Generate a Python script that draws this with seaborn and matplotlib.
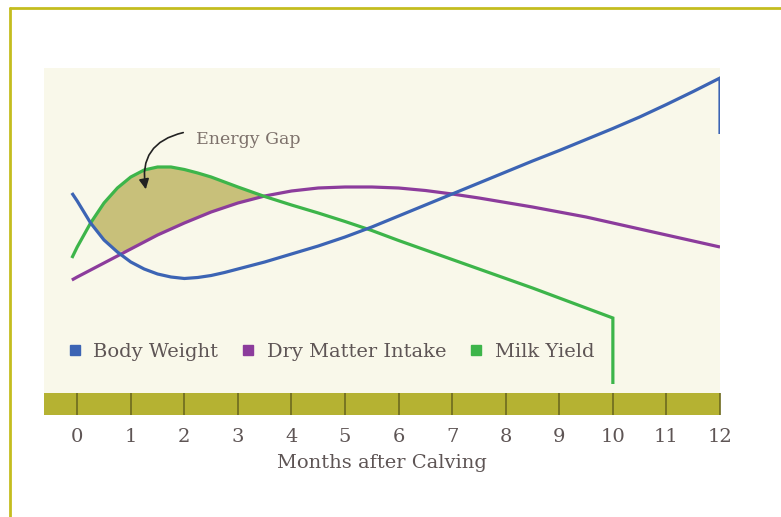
import numpy as np
import pandas as pd
import matplotlib.pyplot as plt
import seaborn as sns
from matplotlib.lines import Line2D

sns.set_theme(style="white")
plt.rcParams["font.family"] = ["DejaVu Serif"]

# months after calving (shared grid for the three curves)
MONTHS = [-0.1, 0, 0.25, 0.5, 0.75, 1, 1.25, 1.5, 1.75, 2, 2.25, 2.5, 2.75, 3, 3.5, 4, 4.5,
          5, 5.5, 6, 6.5, 7, 7.5, 8, 8.5, 9, 9.5, 10, 10.5, 11, 11.5, 12]

BODY_WEIGHT = [200, 192, 170, 153, 141, 131, 124, 119, 116, 114.5, 115.5, 117.5, 120.5, 124,
               131, 139, 147, 156, 166, 177, 188, 199, 210, 221, 232, 242.5, 253.5, 264.5,
               276, 288.5, 301.5, 315]
BODY_WEIGHT_END = 259  # drop at month 12

DRY_MATTER = [113, 116, 123, 130, 137, 144, 151, 158, 164, 170, 175.5, 181, 185.5, 190,
              197, 202, 205, 206, 206, 205, 202.5, 199, 195, 190.5, 186, 181, 176, 170,
              164, 158, 152, 146]

# milk yield only runs to month 10 (dry-off)
MILK_YIELD = [135, 146, 170, 190, 205, 216, 223, 226, 226, 223.5, 220, 216, 211, 206,
              196.5, 188, 180, 171.5, 162.5, 152.5, 143, 133.5, 124, 114.5, 105, 95, 85, 75]
MILK_YIELD_END = 9  # drop at month 10

TICKS = list(range(0, 13))

BLUE = "#3c64b4"
PURPLE = "#8c3c9c"
GREEN = "#3db54a"
CREAM = "#f9f8ea"
OLIVE = "#b5b232"
TEXT = "#5e5555"


def series_frame(months, values, end_value=None):
    df = pd.DataFrame({"month": months, "value": values})
    if end_value is not None:
        df = pd.concat([df, pd.DataFrame({"month": [months[-1]], "value": [end_value]})],
                       ignore_index=True)
    return df


def plot_chart(filename):
    fig = plt.figure(figsize=(7.81, 5.17), dpi=100)
    fig.patch.set_facecolor("white")

    ax = fig.add_axes([44 / 781, 124 / 517, 676 / 781, 325 / 517])
    band = fig.add_axes([44 / 781, 102 / 517, 676 / 781, 22 / 517], sharex=ax)

    ax.set_facecolor(CREAM)
    ax.set_xlim(-0.62, 12)
    ax.set_ylim(0, 325)
    for s in ax.spines.values():
        s.set_visible(False)
    ax.tick_params(left=False, bottom=False, labelleft=False, labelbottom=False)

    # energy gap: milk yield above both intake and body weight
    n = len(MILK_YIELD)
    x = np.array(MONTHS[:n])
    milk = np.array(MILK_YIELD)
    lower = np.maximum(np.array(DRY_MATTER[:n]), np.array(BODY_WEIGHT[:n]))
    ax.fill_between(x, lower, milk, where=milk > lower, interpolate=True,
                    color="#c8c07a", lw=0, zorder=1)

    for df, color in [
        (series_frame(MONTHS, DRY_MATTER), PURPLE),
        (series_frame(MONTHS[:n], MILK_YIELD, MILK_YIELD_END), GREEN),
        (series_frame(MONTHS, BODY_WEIGHT, BODY_WEIGHT_END), BLUE),
    ]:
        sns.lineplot(data=df, x="month", y="value", sort=False, estimator=None,
                     color=color, lw=2.3, ax=ax, zorder=3,
                     solid_capstyle="butt", solid_joinstyle="miter")
    ax.set_xlabel("")
    ax.set_ylabel("")

    ax.text(2.22, 253, "Energy Gap", fontsize=12.5, color="#7d716b", ha="left", va="center")
    ax.annotate("", xy=(1.29, 201), xytext=(2.03, 261),
                arrowprops=dict(arrowstyle="-|>", connectionstyle="arc3,rad=0.5",
                                color="#222222", lw=1.2, mutation_scale=15))

    handles = [Line2D([], [], marker="s", ls="", color=c, markersize=7)
               for c in (BLUE, PURPLE, GREEN)]
    ax.legend(handles, ["Body Weight", "Dry Matter Intake", "Milk Yield"],
              loc="center left", bbox_to_anchor=(0.008, 0.126), ncol=3, frameon=False,
              handletextpad=0.55, columnspacing=1.15, handlelength=0.8,
              prop={"size": 14}, labelcolor=TEXT)

    # olive band with month ticks
    band.set_facecolor(OLIVE)
    band.set_ylim(0, 1)
    for s in band.spines.values():
        s.set_visible(False)
    band.set_xticks(TICKS)
    band.set_xticklabels([str(t) for t in TICKS])
    band.set_yticks([])
    band.tick_params(axis="x", direction="in", length=16, width=1.2, color="#6e6b1f",
                     pad=9, labelsize=14, labelcolor=TEXT, bottom=True)
    band.set_xlabel("Months after Calving", fontsize=14, color=TEXT, labelpad=6)

    # frame lines on the left and top of the figure
    fig.add_artist(Line2D([10 / 781, 10 / 781], [0, 509 / 517], color="#c4bd1f", lw=2))
    fig.add_artist(Line2D([10 / 781, 1], [509 / 517, 509 / 517], color="#c4bd1f", lw=2))

    fig.savefig(filename, dpi=100)
    plt.close(fig)


def main():
    plot_chart("out.png")


if __name__ == "__main__":
    main()
